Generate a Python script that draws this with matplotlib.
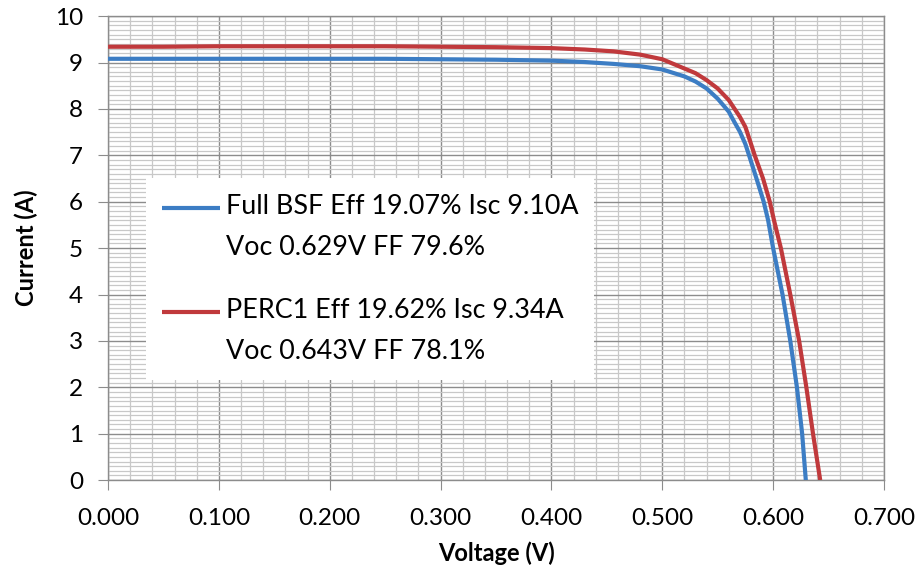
import matplotlib
matplotlib.use('Agg')
import matplotlib.pyplot as plt
import numpy as np
from matplotlib.legend_handler import HandlerLine2D
from matplotlib.ticker import MultipleLocator, FormatStrFormatter

# I-V curves
bsf_v = [0.000, 0.050, 0.100, 0.150, 0.200, 0.250, 0.300, 0.350, 0.400, 0.430,
         0.456, 0.480, 0.500, 0.520, 0.530, 0.540, 0.550, 0.560, 0.565, 0.570,
         0.575, 0.5783, 0.585, 0.5915, 0.5955, 0.600, 0.6085, 0.6155, 0.6215,
         0.6262, 0.6295]
bsf_i = [9.08, 9.08, 9.08, 9.08, 9.08, 9.08, 9.07, 9.06, 9.04, 9.01,
         8.97, 8.92, 8.85, 8.70, 8.59, 8.44, 8.22, 7.94, 7.72, 7.51,
         7.24, 7.00, 6.50, 6.00, 5.60, 5.00, 4.00, 3.00, 2.00,
         1.00, 0.00]

perc_v = [0.000, 0.050, 0.100, 0.150, 0.200, 0.250, 0.300, 0.350, 0.400, 0.430,
          0.456, 0.480, 0.500, 0.520, 0.530, 0.540, 0.550, 0.560, 0.565, 0.570,
          0.575, 0.5789, 0.5834, 0.5909, 0.597, 0.6008, 0.607, 0.6155, 0.6235,
          0.630, 0.636, 0.6425]
perc_i = [9.34, 9.34, 9.35, 9.35, 9.35, 9.35, 9.34, 9.33, 9.31, 9.28,
          9.24, 9.17, 9.07, 8.87, 8.77, 8.62, 8.44, 8.19, 8.01, 7.83,
          7.61, 7.33, 7.00, 6.50, 6.00, 5.60, 5.00, 4.00, 3.00,
          2.00, 1.00, 0.00]

bsf_label = 'Full BSF Eff 19.07% Isc 9.10A\nVoc 0.629V FF 79.6%'
perc_label = 'PERC1 Eff 19.62% Isc 9.34A\nVoc 0.643V FF 78.1%'

plt.rcParams['font.family'] = ['Lato', 'DejaVu Sans']


class HandlerFirstLine(HandlerLine2D):
    # put the legend line next to the first text line instead of the middle
    def __init__(self, dy, **kw):
        super().__init__(**kw)
        self.dy = dy

    def create_artists(self, legend, orig_handle, xdescent, ydescent,
                       width, height, fontsize, trans):
        arts = super().create_artists(legend, orig_handle, xdescent, ydescent,
                                      width, height, fontsize, trans)
        for a in arts:
            a.set_ydata(np.asarray(a.get_ydata()) + self.dy)
        return arts


fig = plt.figure(figsize=(9.16, 5.75), dpi=100)
ax = fig.add_axes([0.118, 0.165, 0.847, 0.807])

l1, = ax.plot(bsf_v, bsf_i, color='#3c7dc4', lw=3, solid_capstyle='butt',
              solid_joinstyle='round', zorder=3)
l2, = ax.plot(perc_v, perc_i, color='#c0393c', lw=3, solid_capstyle='butt',
              solid_joinstyle='round', zorder=3)

ax.set_xlim(0, 0.7)
ax.set_ylim(0, 10)
ax.xaxis.set_major_locator(MultipleLocator(0.1))
ax.xaxis.set_minor_locator(MultipleLocator(0.02))
ax.yaxis.set_major_locator(MultipleLocator(1))
ax.yaxis.set_minor_locator(MultipleLocator(0.1))
ax.xaxis.set_major_formatter(FormatStrFormatter('%.3f'))

ax.grid(which='major', color='#8c8c8c', lw=1.0)
ax.grid(which='minor', color='#c8c8c8', lw=0.9)
ax.set_axisbelow(True)
for s in ax.spines.values():
    s.set_color('#8c8c8c')
    s.set_linewidth(1.0)

ax.tick_params(which='major', length=7, color='#8c8c8c', labelsize=17.5)
ax.tick_params(axis='x', which='major', pad=13)
ax.tick_params(axis='y', which='major', pad=11)
ax.tick_params(which='minor', length=0)

ax.set_xlabel('Voltage (V)', fontsize=17, fontweight='bold', labelpad=9)
ax.set_ylabel('Current (A)', fontsize=17, fontweight='bold', labelpad=12)

leg = ax.legend([l1, l2], [bsf_label, perc_label],
                loc='upper left', bbox_to_anchor=(0.049, 0.651),
                borderaxespad=0, fontsize=19.4, frameon=True, fancybox=False,
                framealpha=1, facecolor='white', edgecolor='none',
                borderpad=0.6, handlelength=2.15, handletextpad=0.2,
                labelspacing=1.4,
                handler_map={l1: HandlerFirstLine(14.2), l2: HandlerFirstLine(14.2)})
for t in leg.get_texts():
    t.set_linespacing(1.8)
leg.set_zorder(4)

fig.savefig('out.png', dpi=100)
